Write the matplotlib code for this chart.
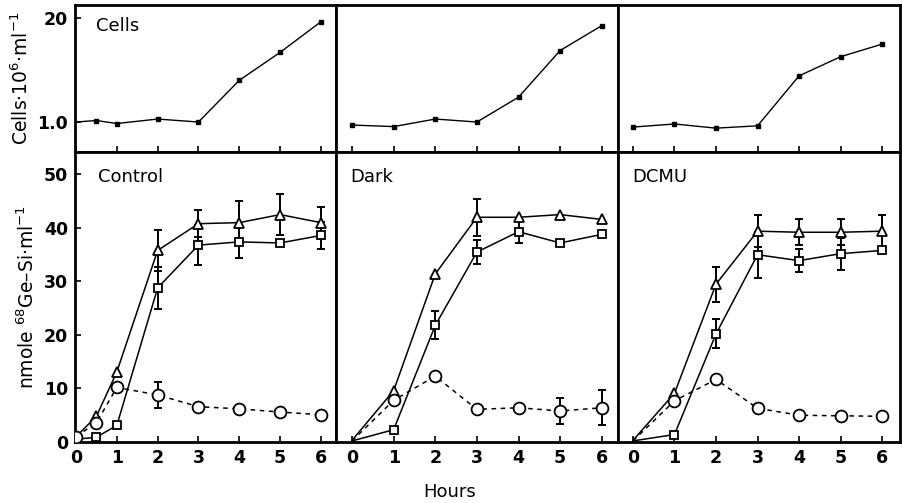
import numpy as np
import matplotlib
matplotlib.use("Agg")
import matplotlib.pyplot as plt

# ---------------- data ----------------
panels = ["Control", "Dark", "DCMU"]

# top row: cell counts (Cells·10^6·ml^-1)
ctrl_cells_h = [0, 0.5, 1, 2, 3, 4, 5, 6]
ctrl_cells = [1.0, 1.01, 0.99, 1.02, 1.0, 1.32, 1.59, 1.95]
dark_cells_h = [0, 1, 2, 3, 4, 5, 6]
dark_cells = [0.98, 0.97, 1.02, 1.0, 1.18, 1.61, 1.90]
dcmu_cells_h = [0, 1, 2, 3, 4, 5, 6]
dcmu_cells = [0.967, 0.987, 0.96, 0.975, 1.36, 1.545, 1.68]

# bottom row: nmole 68Ge-Si per ml
ctrl_h = [0, 0.5, 1, 2, 3, 4, 5, 6]
ctrl_tri = [1.0, 4.8, 13.1, 35.8, 40.8, 41.0, 42.5, 41.0]
ctrl_tri_err = [0, 0, 0, 3.8, 2.5, 4.0, 3.8, 3.0]
ctrl_sq = [0.5, 0.9, 3.1, 28.8, 36.8, 37.4, 37.2, 38.6]
ctrl_sq_err = [0, 0, 0, 4.0, 3.7, 3.0, 0, 2.5]
ctrl_circ = [1.0, 3.6, 10.2, 8.8, 6.6, 6.2, 5.6, 5.1]
ctrl_circ_err = [0, 0, 0, 2.5, 0, 0, 0, 0]

dark_h = [0, 1, 2, 3, 4, 5, 6]
dark_tri = [0.3, 9.6, 31.4, 42.0, 42.0, 42.5, 41.6]
dark_tri_err = [0, 0, 0, 3.5, 0, 0, 0]
dark_sq = [0.2, 2.3, 21.8, 35.5, 39.3, 37.2, 38.8]
dark_sq_err = [0, 0, 2.6, 2.3, 2.2, 0, 0]
dark_circ = [0.2, 7.8, 12.3, 6.1, 6.4, 5.8, 6.4]
dark_circ_err = [0, 0, 0, 0, 0, 2.5, 3.3]

dcmu_h = [0, 1, 2, 3, 4, 5, 6]
dcmu_tri = [0.3, 9.1, 29.5, 39.4, 39.2, 39.2, 39.4]
dcmu_tri_err = [0, 0, 3.3, 3.0, 2.4, 2.4, 3.0]
dcmu_sq = [0.2, 1.4, 20.2, 35.0, 33.9, 35.2, 35.8]
dcmu_sq_err = [0, 0, 2.7, 4.3, 2.2, 3.0, 0]
dcmu_circ = [0.2, 7.7, 11.7, 6.3, 5.0, 4.9, 4.8]
dcmu_circ_err = [0, 0, 0, 0, 0, 0, 0]

x_ticks = [0, 1, 2, 3, 4, 5, 6]
y_ticks_bottom = [0, 10, 20, 30, 40, 50]
y_ticks_top = [1.0, 2.0]
y_ticklabels_top = ["1.0", "20"]

# ---------------- layout ----------------
W, H = 903, 503
fig = plt.figure(figsize=(W / 100, H / 100), dpi=100)
plt.rcParams['font.family'] = ['DejaVu Sans']

cols_px = [(75, 336), (336, 618), (618, 900)]
xlims = [(-0.025, 6.37), (-0.385, 6.39), (-0.36, 6.43)]
top_px = (5, 152)
bot_px = (152, 442)

def rect(xp, yp):
    return [xp[0] / W, 1 - yp[1] / H, (xp[1] - xp[0]) / W, (yp[1] - yp[0]) / H]

cells_data = [(ctrl_cells_h, ctrl_cells, 1),
              (dark_cells_h, dark_cells, 0),
              (dcmu_cells_h, dcmu_cells, 0)]
si_data = [
    (ctrl_h, ctrl_tri, ctrl_tri_err, ctrl_sq, ctrl_sq_err, ctrl_circ, ctrl_circ_err, 0),
    (dark_h, dark_tri, dark_tri_err, dark_sq, dark_sq_err, dark_circ, dark_circ_err, 1),
    (dcmu_h, dcmu_tri, dcmu_tri_err, dcmu_sq, dcmu_sq_err, dcmu_circ, dcmu_circ_err, 1),
]

lw_spine = 2.0
tick_font = dict(fontsize=12.5, fontweight='bold')


def style_axes(ax):
    for s in ax.spines.values():
        s.set_linewidth(lw_spine)
        s.set_color('black')
    ax.tick_params(axis='both', direction='in', length=4, width=1.2,
                   colors='black', pad=5)


def errbars(ax, h, v, e):
    h = np.asarray(h, float); v = np.asarray(v, float); e = np.asarray(e, float)
    m = e > 0
    if m.any():
        ax.errorbar(h[m], v[m], yerr=e[m], fmt='none', ecolor='black',
                    elinewidth=1.4, capsize=3, capthick=1.4, zorder=2)


for i in range(3):
    # ---- top panel ----
    axt = fig.add_axes(rect(cols_px[i], top_px))
    h, v, m0 = cells_data[i]
    axt.plot(h, v, color='black', lw=1.0, zorder=2)
    axt.plot(h[m0:], v[m0:], ls='none', marker='s', ms=3.2, color='black', zorder=3)
    axt.set_yscale('log')
    axt.set_ylim(0.819, 2.18)
    axt.set_xlim(*xlims[i])
    axt.set_xticks(x_ticks)
    axt.set_xticklabels([])
    axt.minorticks_off()
    axt.set_yticks(y_ticks_top)
    style_axes(axt)
    if i == 0:
        axt.set_yticklabels(y_ticklabels_top, **tick_font)
        axt.text(0.5, 1.83, "Cells", fontsize=13)
        axt.set_ylabel("Cells·10$^{6}$·ml$^{-1}$", fontsize=13.5, labelpad=4)
    else:
        axt.set_yticklabels([])
        axt.tick_params(axis='y', length=0)

    # ---- bottom panel ----
    axb = fig.add_axes(rect(cols_px[i], bot_px))
    h, tri, tri_e, sq, sq_e, ci, ci_e, m0 = si_data[i]
    errbars(axb, h, tri, tri_e)
    errbars(axb, h, sq, sq_e)
    errbars(axb, h, ci, ci_e)
    axb.plot(h, tri, color='black', lw=1.1, zorder=3)
    axb.plot(h, sq, color='black', lw=1.1, zorder=3)
    axb.plot(h, ci, color='black', lw=1.1, ls=(0, (3, 3)), zorder=3)
    axb.plot(h[m0:], tri[m0:], ls='none', marker='^', ms=6.5, mfc='white',
             mec='black', mew=1.3, zorder=4)
    axb.plot(h[m0:], sq[m0:], ls='none', marker='s', ms=5.5, mfc='white',
             mec='black', mew=1.3, zorder=4)
    axb.plot(h[m0:], ci[m0:], ls='none', marker='o', ms=8.5, mfc='white',
             mec='black', mew=1.3, zorder=4)
    axb.set_xlim(*xlims[i])
    axb.set_ylim(0, 54.2)
    axb.set_xticks(x_ticks)
    axb.set_xticklabels([str(t) for t in x_ticks], **tick_font)
    axb.set_yticks(y_ticks_bottom)
    axb.text(0.09 if i == 0 else 0.05, 0.895, panels[i], transform=axb.transAxes,
             fontsize=13)
    style_axes(axb)
    if i == 0:
        axb.set_yticklabels([str(t) for t in y_ticks_bottom], **tick_font)
        axb.set_ylabel("nmole $^{68}$Ge–Si·ml$^{-1}$", fontsize=13.5, labelpad=4)
    else:
        axb.set_yticklabels([])
        axb.tick_params(axis='y', length=0)

fig.text(450 / W, 1 - 492 / H, "Hours", ha='center', va='center', fontsize=13)

fig.savefig("out.png", dpi=100, facecolor='white')
